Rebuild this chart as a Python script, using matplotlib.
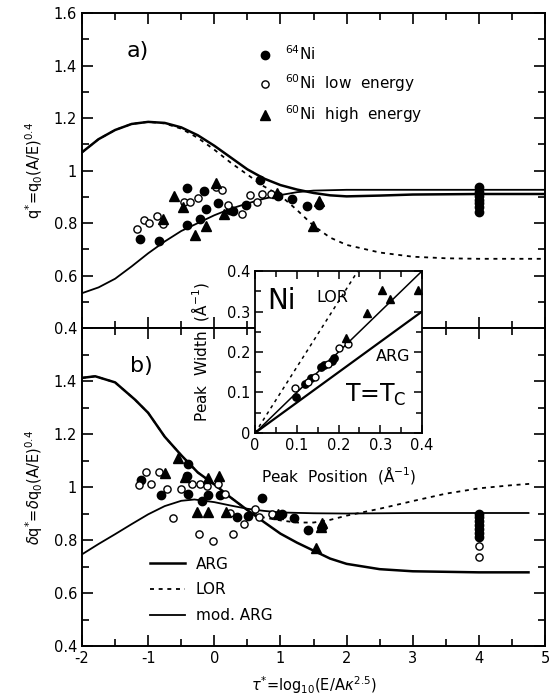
import matplotlib
matplotlib.use("Agg")
import matplotlib.pyplot as plt
from matplotlib.ticker import MultipleLocator, FuncFormatter
from matplotlib.lines import Line2D

plt.rcParams['font.family'] = ['DejaVu Sans']
plt.rcParams['mathtext.fontset'] = 'dejavusans'

# ---------------- panel a) curves ----------------
a_arg_x = [-2.0, -1.75, -1.5, -1.25, -1.0, -0.75, -0.5, -0.25, 0.0, 0.25, 0.5, 0.75, 1.0, 1.25, 1.5, 1.75, 2.0, 2.5, 3.0, 4.0, 5.0]
a_arg_y = [1.07, 1.12, 1.155, 1.178, 1.186, 1.182, 1.165, 1.135, 1.095, 1.05, 1.005, 0.97, 0.945, 0.928, 0.915, 0.906, 0.902, 0.905, 0.909, 0.911, 0.911]
a_lor_x = [-2.0, -1.75, -1.5, -1.25, -1.0, -0.75, -0.5, -0.25, 0.0, 0.25, 0.5, 0.75, 1.0, 1.25, 1.5, 1.75, 2.0, 2.5, 3.0, 3.5, 4.0, 5.0]
a_lor_y = [1.07, 1.12, 1.155, 1.178, 1.186, 1.18, 1.16, 1.125, 1.08, 1.03, 0.985, 0.94, 0.905, 0.85, 0.79, 0.745, 0.717, 0.688, 0.672, 0.666, 0.664, 0.664]
a_mod_x = [-2.0, -1.75, -1.5, -1.25, -1.0, -0.75, -0.5, -0.25, 0.0, 0.25, 0.5, 0.75, 1.0, 1.25, 1.5, 2.0, 3.0, 4.0, 5.0]
a_mod_y = [0.533, 0.555, 0.588, 0.635, 0.685, 0.73, 0.77, 0.80, 0.83, 0.855, 0.875, 0.893, 0.907, 0.918, 0.924, 0.927, 0.927, 0.927, 0.927]

# panel a) data
a_ni64_x = [-1.13, -0.83, -0.42, -0.42, -0.22, -0.15, -0.12, 0.05, 0.24, 0.28, 0.48, 0.69, 0.97, 1.18, 1.40, 1.59, 4, 4, 4, 4, 4, 4, 4]
a_ni64_y = [0.739, 0.733, 0.932, 0.792, 0.814, 0.922, 0.853, 0.875, 0.851, 0.846, 0.868, 0.964, 0.903, 0.892, 0.864, 0.868, 0.937, 0.92, 0.905, 0.89, 0.875, 0.86, 0.843]
a_lo_x = [-1.17, -1.07, -0.99, -0.87, -0.77, -0.46, -0.37, -0.25, 0.02, 0.12, 0.21, 0.42, 0.54, 0.65, 0.72, 0.85]
a_lo_y = [0.776, 0.811, 0.801, 0.827, 0.797, 0.881, 0.881, 0.897, 0.938, 0.927, 0.868, 0.833, 0.906, 0.881, 0.912, 0.912]
a_hi_x = [-0.77, -0.61, -0.47, -0.29, -0.12, 0.03, 0.15, 0.95, 1.49, 1.58]
a_hi_y = [0.815, 0.903, 0.86, 0.754, 0.788, 0.953, 0.836, 0.916, 0.788, 0.885]

# ---------------- panel b) curves ----------------
b_arg_x = [-2.0, -1.8, -1.5, -1.2, -1.0, -0.75, -0.5, -0.25, 0.0, 0.25, 0.5, 0.75, 1.0, 1.25, 1.5, 1.75, 2.0, 2.5, 3.0, 4.0, 4.75]
b_arg_y = [1.412, 1.418, 1.395, 1.33, 1.28, 1.19, 1.12, 1.055, 1.01, 0.96, 0.913, 0.868, 0.824, 0.79, 0.76, 0.73, 0.71, 0.69, 0.682, 0.678, 0.678]
b_lor_x = [-2.0, -1.8, -1.5, -1.2, -1.0, -0.75, -0.5, -0.25, 0.0, 0.25, 0.5, 0.75, 1.0, 1.25, 1.5, 1.75, 2.0, 2.5, 3.0, 3.5, 4.0, 4.5, 4.82]
b_lor_y = [1.412, 1.418, 1.395, 1.33, 1.28, 1.19, 1.12, 1.055, 1.01, 0.96, 0.913, 0.885, 0.874, 0.866, 0.866, 0.876, 0.892, 0.918, 0.947, 0.975, 0.995, 1.007, 1.013]
b_mod_x = [-2.0, -1.75, -1.5, -1.25, -1.0, -0.75, -0.5, -0.3, 0.0, 0.25, 0.5, 0.75, 1.0, 1.5, 2.0, 3.0, 4.75]
b_mod_y = [0.746, 0.785, 0.822, 0.86, 0.897, 0.928, 0.948, 0.953, 0.943, 0.93, 0.918, 0.91, 0.904, 0.901, 0.90, 0.902, 0.902]

# panel b) data
b_ni64_x = [-1.11, -0.81, -0.40, -0.42, -0.40, -0.19, -0.09, 0.09, 0.34, 0.51, 0.72, 1.02, 1.21, 1.42, 1.63, 4, 4, 4, 4, 4, 4, 4]
b_ni64_y = [1.025, 0.969, 1.088, 1.041, 0.975, 0.947, 0.970, 0.970, 0.887, 0.890, 0.96, 0.897, 0.884, 0.838, 0.849, 0.90, 0.885, 0.87, 0.855, 0.84, 0.825, 0.81]
b_lo_x = [-1.14, -1.03, -0.95, -0.83, -0.72, -0.63, -0.51, -0.34, -0.21, -0.11, -0.23, -0.02, 0.05, 0.16, 0.29, 0.45, 0.61, 0.68, 0.87, 0.24, 4, 4]
b_lo_y = [1.007, 1.056, 1.012, 1.056, 0.994, 0.884, 0.991, 1.012, 1.012, 1.004, 0.822, 0.796, 1.01, 0.972, 0.822, 0.861, 0.916, 0.887, 0.897, 0.903, 0.777, 0.737]
b_hi_x = [-0.55, -0.74, -0.45, -0.09, 0.07, -0.26, -0.09, 0.18, 0.97, 1.53, 1.63, 1.61]
b_hi_y = [1.11, 1.054, 1.038, 1.035, 1.041, 0.907, 0.907, 0.907, 0.897, 0.771, 0.865, 0.85]

# ---------------- inset ----------------
ins_line_x = [0.0, 0.4]
ins_lor_y = [0.0, 0.65]
ins_mod_y = [0.0, 0.4]
ins_arg_y = [0.0, 0.3]
ins_ni64_x = [0.099, 0.12, 0.135, 0.157, 0.165, 0.185, 0.19]
ins_ni64_y = [0.089, 0.121, 0.137, 0.164, 0.168, 0.179, 0.184]
ins_lo_x = [0.095, 0.127, 0.143, 0.176, 0.20, 0.222]
ins_lo_y = [0.11, 0.127, 0.139, 0.171, 0.21, 0.22]
ins_hi_x = [0.218, 0.269, 0.305, 0.323, 0.39]
ins_hi_y = [0.234, 0.296, 0.354, 0.33, 0.354]

lab_ni64 = r'$^{64}$Ni'
lab_lo = r'$^{60}$Ni  low  energy'
lab_hi = r'$^{60}$Ni  high  energy'

fig = plt.figure(figsize=(5.49, 6.98), dpi=100)
axa = fig.add_axes([0.1494, 0.530, 0.8434, 0.451])
axb = fig.add_axes([0.1494, 0.0745, 0.8434, 0.4555])

fs = 10.5
fmt = FuncFormatter(lambda v, p: '%g' % round(v, 3))

def style_main(ax):
    ax.set_xlim(-2, 5)
    ax.set_ylim(0.4, 1.6)
    ax.xaxis.set_major_locator(MultipleLocator(1))
    ax.xaxis.set_minor_locator(MultipleLocator(0.5))
    ax.yaxis.set_major_locator(MultipleLocator(0.2))
    ax.yaxis.set_minor_locator(MultipleLocator(0.1))
    ax.tick_params(which='both', direction='in', top=True, right=True, width=1.2, labelsize=fs)
    ax.tick_params(which='major', length=8)
    ax.tick_params(which='minor', length=5)
    ax.yaxis.set_major_formatter(fmt)
    ax.xaxis.set_major_formatter(fmt)
    for s in ax.spines.values():
        s.set_linewidth(1.4)

style_main(axa)
style_main(axb)
axa.tick_params(labelbottom=False)
axb.yaxis.set_major_formatter(FuncFormatter(lambda v, p: '' if v > 1.5 else '%g' % round(v, 3)))

mk = dict(linestyle='none', color='black')
dash = (0, (2.2, 2.6))

# panel a
axa.plot(a_lor_x, a_lor_y, color='black', lw=1.3, linestyle=dash)
axa.plot(a_arg_x, a_arg_y, color='black', lw=1.8)
axa.plot(a_mod_x, a_mod_y, color='black', lw=1.3)
h1, = axa.plot(a_ni64_x, a_ni64_y, marker='o', ms=6, **mk)
h2, = axa.plot(a_lo_x, a_lo_y, marker='o', ms=5.2, mfc='white', mew=1.0, **mk)
h3, = axa.plot(a_hi_x, a_hi_y, marker='^', ms=6.5, **mk)
axa.legend([h1, h2, h3], [lab_ni64, lab_lo, lab_hi], loc='upper left',
           bbox_to_anchor=(0.366, 0.925), frameon=False, fontsize=11,
           handlelength=0.8, handletextpad=0.9, labelspacing=0.6, borderpad=0)
axa.text(-1.15, 1.455, 'a)', fontsize=16, ha='center', va='center')
axa.set_ylabel(r'q$^{*}$=q$_{0}$(A/E)$^{0.4}$', fontsize=fs, labelpad=6)

# panel b
axb.plot(b_lor_x, b_lor_y, color='black', lw=1.3, linestyle=dash)
axb.plot(b_arg_x, b_arg_y, color='black', lw=1.8)
axb.plot(b_mod_x, b_mod_y, color='black', lw=1.3)
axb.plot(b_ni64_x, b_ni64_y, marker='o', ms=6, **mk)
axb.plot(b_lo_x, b_lo_y, marker='o', ms=5.2, mfc='white', mew=1.0, **mk)
axb.plot(b_hi_x, b_hi_y, marker='^', ms=6.5, **mk)
lh = [Line2D([], [], color='black', lw=1.8),
      Line2D([], [], color='black', lw=1.3, linestyle=dash),
      Line2D([], [], color='black', lw=1.3)]
axb.legend(lh, ['ARG', 'LOR', 'mod. ARG'], loc='upper left', bbox_to_anchor=(0.13, 0.305),
           frameon=False, fontsize=11, handlelength=2.3, handletextpad=0.7,
           labelspacing=0.7, borderpad=0)
axb.text(-1.1, 1.457, 'b)', fontsize=16, ha='center', va='center')
axb.set_ylabel(r'$\delta$q$^{*}$=$\delta$q$_{0}$(A/E)$^{0.4}$', fontsize=fs, labelpad=6)
axb.set_xlabel(r'$\tau^{*}$=log$_{10}$(E/A$\kappa^{2.5}$)', fontsize=fs, labelpad=6)

# inset
axi = fig.add_axes([0.4645, 0.3797, 0.3042, 0.232])
axi.set_xlim(0, 0.4)
axi.set_ylim(0, 0.4)
axi.plot(ins_line_x, ins_lor_y, color='black', lw=1.1, linestyle=dash)
axi.plot(ins_line_x, ins_mod_y, color='black', lw=1.1)
axi.plot(ins_line_x, ins_arg_y, color='black', lw=1.6)
axi.plot(ins_ni64_x, ins_ni64_y, marker='o', ms=5.3, **mk)
axi.plot(ins_lo_x, ins_lo_y, marker='o', ms=5.0, mfc='white', mew=1.0, **mk)
axi.plot(ins_hi_x, ins_hi_y, marker='^', ms=6, **mk)
axi.xaxis.set_major_locator(MultipleLocator(0.1))
axi.xaxis.set_minor_locator(MultipleLocator(0.05))
axi.yaxis.set_major_locator(MultipleLocator(0.1))
axi.yaxis.set_minor_locator(MultipleLocator(0.05))
axi.xaxis.set_major_formatter(fmt)
axi.yaxis.set_major_formatter(fmt)
axi.tick_params(which='both', direction='in', top=True, right=True, width=1.1, labelsize=fs)
axi.tick_params(which='major', length=6)
axi.tick_params(which='minor', length=4)
for s in axi.spines.values():
    s.set_linewidth(1.3)
axi.set_xlabel(r'Peak  Position  ($\rm\AA^{-1}$)', fontsize=fs + 0.5, labelpad=8)
axi.set_ylabel(r'Peak  Width  ($\rm\AA^{-1}$)', fontsize=fs + 0.5, labelpad=11)
axi.text(0.03, 0.325, 'Ni', fontsize=20, ha='left', va='center')
axi.text(0.148, 0.335, 'LOR', fontsize=11.5, ha='left', va='center')
axi.text(0.29, 0.19, 'ARG', fontsize=11.5, ha='left', va='center')
axi.text(0.215, 0.095, r'T=T$_{\rm C}$', fontsize=17, ha='left', va='center')

fig.savefig('out.png', dpi=100)
